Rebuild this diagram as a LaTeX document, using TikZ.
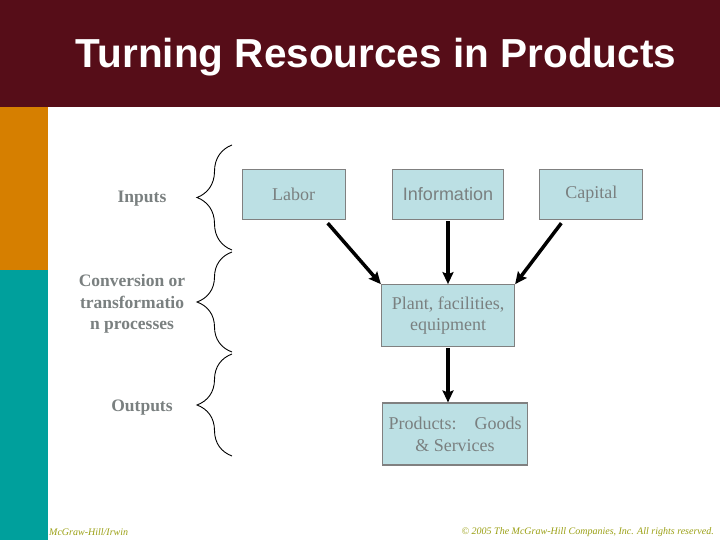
\documentclass[tikz,border=0pt]{standalone}
\usepackage{fontspec}
\setmainfont{Liberation Serif}
\setsansfont{Liberation Sans}
\usetikzlibrary{arrows.meta, positioning, decorations.pathreplacing}
\definecolor{banner}{RGB}{86,13,24}
\definecolor{stripeA}{RGB}{214,127,0}
\definecolor{stripeB}{RGB}{0,160,156}
\definecolor{boxfill}{RGB}{188,224,228}
\definecolor{boxline}{RGB}{128,128,128}
\definecolor{txtgray}{RGB}{122,128,128}
\definecolor{footer}{RGB}{155,160,20}

\begin{document}
\begin{tikzpicture}[
        x=1pt, y=-1pt,
        res/.style={rectangle, draw=boxline, fill=boxfill, line width=1.3pt, minimum width=#1, minimum height=50pt, inner sep=2pt, text=txtgray, font=\fontsize{18}{21.5}\selectfont, align=center},
        res/.default=103pt,
        stage/.style={text=txtgray, font=\fontsize{17.5}{21.5}\selectfont\bfseries, align=center, inner sep=0pt},
        flow/.style={-{Stealth[length=12pt, width=11pt, inset=2pt]}, line width=3.5pt},
        bracket/.style={decorate, decoration={brace, amplitude=35pt}, line width=0.9pt},
        note/.style={text=footer, font=\fontsize{10}{12}\selectfont\itshape, inner sep=0pt}
    ]
    \useasboundingbox (0,0) rectangle (720,540);
    \fill[white] (0,0) rectangle (720,540);

    % Slide frame
    \fill[banner] (0,0) rectangle (720,107);
    \fill[stripeA] (0,107) rectangle (48,270);
    \fill[stripeB] (0,270) rectangle (48,540);
    \node[text=white, font=\fontsize{40.5}{44}\selectfont\sffamily\bfseries, anchor=base] (title) at (376,68) {Turning Resources in Products};

    % Stages
    \node[stage] (inputs) at (142,199) {Inputs};
    \node[stage] (convert) at (132,304) {Conversion or\\transformatio\\n processes};
    \node[stage] (outputs) at (142,408) {Outputs};

    \draw[bracket] (232,250) -- (232,145);
    \draw[bracket] (232,352) -- (232,252);
    \draw[bracket] (232,456) -- (232,354);

    % Resources
    \node[res=111pt, font=\fontsize{18}{21.5}\selectfont\sffamily] (info) at (448,194.5) {Information};
    \node[res, left=46pt of info] (labor) {Labor};
    \node[res, right=35pt of info] (capital) {Capital};

    \node[res=133pt, minimum height=62pt, below=64pt of info] (plant) {Plant, facilities,\\equipment};
    \node[res=145pt, minimum height=62pt, below=55pt of plant, xshift=7pt] (products) {Products:\hspace{1em}Goods\\\& Services};

    \draw[flow] ([xshift=34pt, yshift=-3pt]labor.south) -- (plant.north west);
    \draw[flow] ([yshift=-1pt]info.south) -- (plant.north);
    \draw[flow] ([xshift=-30pt, yshift=-3pt]capital.south) -- (plant.north east);
    \draw[flow] ([yshift=-1pt]plant.south) -- (plant.south |- products.north);

    \node[note, anchor=west] (publisher) at (49,532) {McGraw-Hill/Irwin};
    \node[note, anchor=east] (rights) at (714,532) {© 2005 The McGraw-Hill Companies, Inc. All rights reserved.};
\end{tikzpicture}
\end{document}
